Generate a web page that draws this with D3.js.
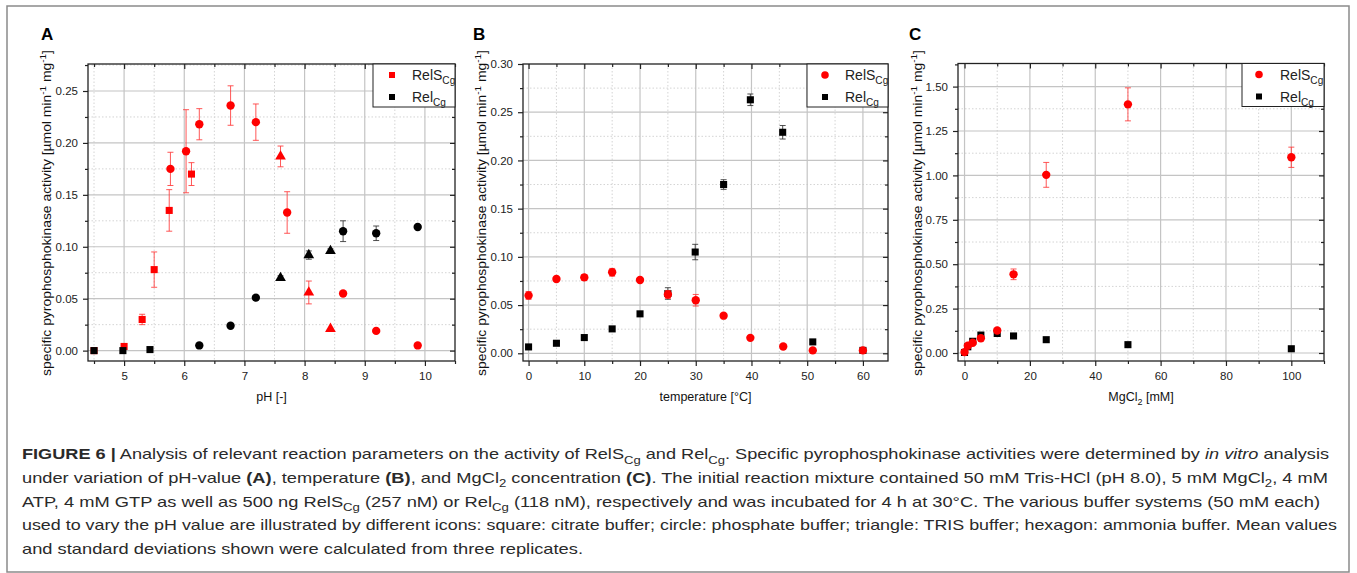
<!DOCTYPE html>
<html><head><meta charset="utf-8">
<script src="https://cdn.jsdelivr.net/npm/d3@7"></script>
<style>
body{margin:0;background:#fff;}
svg{display:block;font-family:"Liberation Sans",Arial,Helvetica,sans-serif;}
</style>
</head><body>
<svg id="chart" width="1357" height="573"></svg>
<script>
// ---------- DATA ----------
// Panel A: pH dependence (buffer decides marker: citrate=square, phosphate=circle, TRIS=triangle)
const phRelS_pH   = [4.5, 5.0, 5.3, 5.5, 5.75, 6.12, 5.77, 6.03, 6.25, 6.77, 7.19, 7.71, 8.64, 9.19, 9.88, 7.6, 8.07, 8.43];
const phRelS_val  = [0.000, 0.004, 0.030, 0.078, 0.135, 0.170, 0.175, 0.192, 0.218, 0.236, 0.220, 0.133, 0.055, 0.019, 0.005, 0.187, 0.056, 0.021];
const phRelS_err  = [0, 0, 0.005, 0.017, 0.020, 0.011, 0.016, 0.040, 0.015, 0.019, 0.0175, 0.020, 0, 0, 0, 0.010, 0.011, 0];
const phRelS_buf  = ["citrate","citrate","citrate","citrate","citrate","citrate","phosphate","phosphate","phosphate","phosphate","phosphate","phosphate","phosphate","phosphate","phosphate","TRIS","TRIS","TRIS"];

const phRel_pH    = [4.5, 4.98, 5.43, 6.25, 6.77, 7.19, 8.64, 9.19, 9.88, 7.6, 8.07, 8.43];
const phRel_val   = [0.000, 0.000, 0.001, 0.005, 0.024, 0.051, 0.115, 0.113, 0.119, 0.070, 0.092, 0.096];
const phRel_err   = [0, 0, 0, 0, 0, 0.002, 0.010, 0.007, 0, 0.002, 0.004, 0.002];
const phRel_buf   = ["citrate","citrate","citrate","phosphate","phosphate","phosphate","phosphate","phosphate","phosphate","TRIS","TRIS","TRIS"];

// Panel B: temperature dependence
const tempRelS    = [0, 5, 10, 15, 20, 25, 30, 35, 39.8, 45.7, 51, 60];
const tempRelS_val= [0.060, 0.077, 0.0787, 0.084, 0.076, 0.061, 0.055, 0.039, 0.016, 0.007, 0.003, 0.003];
const tempRelS_err= [0.004, 0.002, 0.003, 0.004, 0.002, 0.004, 0.006, 0.002, 0, 0, 0, 0];
const tempRel     = [0, 5, 10, 15, 20, 25, 29.9, 35, 39.8, 45.6, 51, 60];
const tempRel_val = [0.0066, 0.0104, 0.0163, 0.0253, 0.0409, 0.062, 0.105, 0.175, 0.2629, 0.2292, 0.0118, 0.003];
const tempRel_err = [0, 0, 0, 0, 0, 0.006, 0.008, 0.005, 0.006, 0.007, 0, 0];

// Panel C: MgCl2 dependence
const mgConc      = [0, 1, 2.5, 5, 10, 15, 25, 50, 100];
const mgRelS_val  = [0.005, 0.041, 0.058, 0.083, 0.127, 0.443, 1.003, 1.40, 1.102];
const mgRelS_err  = [0, 0, 0, 0, 0.01, 0.03, 0.07, 0.093, 0.057];
const mgRel_val   = [0.003, 0.035, 0.066, 0.101, 0.110, 0.096, 0.075, 0.047, 0.024];
const mgRel_err   = [0, 0, 0, 0, 0, 0, 0, 0, 0];

// Tick values
const phTicks     = [5, 6, 7, 8, 9, 10];
const phMinor     = [4.5, 5.5, 6.5, 7.5, 8.5, 9.5, 10.5];
const actTicksA   = [0, 0.05, 0.10, 0.15, 0.20, 0.25];
const actMinorA   = [0.025, 0.075, 0.125, 0.175, 0.225, 0.275];
const tempTicks   = [0, 10, 20, 30, 40, 50, 60];
const tempMinor   = [5, 15, 25, 35, 45, 55];
const actTicksB   = [0, 0.05, 0.10, 0.15, 0.20, 0.25, 0.30];
const actMinorB   = [0.025, 0.075, 0.125, 0.175, 0.225, 0.275];
const mgTicks     = [0, 20, 40, 60, 80, 100];
const mgMinor     = [10, 30, 50, 70, 90, 110];
const actTicksC   = [0, 0.25, 0.50, 0.75, 1.00, 1.25, 1.50];
const actMinorC   = [0.125, 0.375, 0.625, 0.875, 1.125, 1.375, 1.625];

const RED = "#ff0000", BLACK = "#000000";

// ---------- HELPERS ----------
const svg = d3.select("#chart");
svg.append("rect").attr("x",0).attr("y",0).attr("width",1357).attr("height",573).attr("fill","#fff");
svg.append("rect").attr("x",7).attr("y",6).attr("width",1342).attr("height",566)
  .attr("fill","none").attr("stroke","#8a8a8a").attr("stroke-width",1.5);

function rich(textSel, segs, base){
  let shift = 0;
  segs.forEach(s=>{
    const ts = textSel.append("tspan").text(s.t);
    let target = 0;
    if (s.sub){ target = base*0.3; ts.attr("font-size", base*0.72); }
    if (s.sup){ target = -base*0.38; ts.attr("font-size", base*0.72); }
    if (s.b) ts.attr("font-weight","bold");
    if (s.i) ts.attr("font-style","italic");
    const dy = target - shift;
    if (dy !== 0) ts.attr("dy", dy);
    shift = target;
  });
}

const symMap = {citrate: d3.symbolSquare, phosphate: d3.symbolCircle, TRIS: d3.symbolTriangle, square: d3.symbolSquare, circle: d3.symbolCircle};
const symSize = {citrate: 50, phosphate: 55, TRIS: 50, square: 50, circle: 55};

function panel(cfg){
  const {l,r,t,b} = cfg.box;
  const x = d3.scaleLinear().domain(cfg.xDomain).range([l, r]);
  const y = d3.scaleLinear().domain(cfg.yDomain).range([b, t]);
  const g = svg.append("g");

  // grid
  const grid = g.append("g");
  cfg.xMinor.filter(v=>x(v)>l+1 && x(v)<r-1).forEach(v=>grid.append("line")
    .attr("x1",x(v)).attr("x2",x(v)).attr("y1",t).attr("y2",b)
    .attr("stroke","#d4d4d4").attr("stroke-width",1).attr("stroke-dasharray","1.5,2"));
  cfg.yMinor.filter(v=>y(v)>t+1 && y(v)<b-1).forEach(v=>grid.append("line")
    .attr("x1",l).attr("x2",r).attr("y1",y(v)).attr("y2",y(v))
    .attr("stroke","#d4d4d4").attr("stroke-width",1).attr("stroke-dasharray","1.5,2"));
  cfg.xMajor.forEach(v=>grid.append("line")
    .attr("x1",x(v)).attr("x2",x(v)).attr("y1",t).attr("y2",b)
    .attr("stroke","#c4c4c4").attr("stroke-width",1.2));
  cfg.yMajor.filter(v=>y(v)>t+1).forEach(v=>grid.append("line")
    .attr("x1",l).attr("x2",r).attr("y1",y(v)).attr("y2",y(v))
    .attr("stroke","#c4c4c4").attr("stroke-width",1.2));

  // axes
  function styleAxis(sel){
    sel.select(".domain").remove();
    sel.selectAll("line").attr("stroke","#222").attr("stroke-width",1.2);
    sel.selectAll("text").attr("fill","#222").attr("font-size","11.5px")
      .attr("font-family",'"Liberation Sans",Arial,sans-serif');
  }
  g.append("g").attr("transform",`translate(0,${b})`)
    .call(d3.axisBottom(x).tickValues(cfg.xMajor).tickSize(5).tickPadding(6).tickFormat(cfg.xFmt)).call(styleAxis);
  g.append("g").attr("transform",`translate(0,${b})`)
    .call(d3.axisBottom(x).tickValues(cfg.xMinor).tickSize(3).tickFormat("")).call(styleAxis);
  g.append("g").attr("transform",`translate(${l},0)`)
    .call(d3.axisLeft(y).tickValues(cfg.yMajor).tickSize(5).tickPadding(5).tickFormat(cfg.yFmt)).call(styleAxis);
  g.append("g").attr("transform",`translate(${l},0)`)
    .call(d3.axisLeft(y).tickValues(cfg.yMinor.filter(v=>y(v)>=t)).tickSize(3).tickFormat("")).call(styleAxis);
  g.append("g").attr("transform",`translate(0,${t})`)
    .call(d3.axisTop(x).tickValues(cfg.xMajor).tickSize(-5).tickFormat("")).call(styleAxis);
  g.append("g").attr("transform",`translate(0,${t})`)
    .call(d3.axisTop(x).tickValues(cfg.xMinor).tickSize(-3).tickFormat("")).call(styleAxis);
  g.append("g").attr("transform",`translate(${r},0)`)
    .call(d3.axisRight(y).tickValues(cfg.yMajor).tickSize(-5).tickFormat("")).call(styleAxis);
  g.append("g").attr("transform",`translate(${r},0)`)
    .call(d3.axisRight(y).tickValues(cfg.yMinor.filter(v=>y(v)>=t)).tickSize(-3).tickFormat("")).call(styleAxis);

  g.append("rect").attr("x",l).attr("y",t).attr("width",r-l).attr("height",b-t)
    .attr("fill","none").attr("stroke","#222").attr("stroke-width",1.3);

  // series
  cfg.series.forEach(s=>{
    const sg = g.append("g");
    const pts = s.xs.map((xv,i)=>({x:xv, y:s.ys[i], e:s.es[i], shape:s.shapes[i]}));
    const ecol = s.color===RED ? "#ff3b3b" : "#333";
    pts.filter(p=>p.e>0).forEach(p=>{
      const cx = x(p.x), y1 = y(p.y+p.e), y2 = y(p.y-p.e);
      sg.append("line").attr("x1",cx).attr("x2",cx).attr("y1",y1).attr("y2",y2)
        .attr("stroke",ecol).attr("stroke-width",1).attr("opacity",0.85);
      [y1,y2].forEach(yy=>sg.append("line").attr("x1",cx-3).attr("x2",cx+3).attr("y1",yy).attr("y2",yy)
        .attr("stroke",ecol).attr("stroke-width",1).attr("opacity",0.85));
    });
    sg.selectAll("path.m").data(pts).join("path").attr("class","m")
      .attr("transform",d=>`translate(${x(d.x)},${y(d.y)})`)
      .attr("d",d=>d3.symbol().type(symMap[d.shape]).size(symSize[d.shape])())
      .attr("fill",s.color);
  });

  // legend
  const L = cfg.legend;
  g.append("rect").attr("x",L.x).attr("y",L.y).attr("width",L.w).attr("height",L.h)
    .attr("fill","#fff").attr("stroke","#222").attr("stroke-width",1);
  L.items.forEach((it,i)=>{
    const yy = L.y + 11 + i*22;
    g.append("path").attr("transform",`translate(${L.x+L.mx},${yy})`)
      .attr("d",d3.symbol().type(symMap[it.shape]).size(it.shape==="circle"?45:36)())
      .attr("fill",it.color);
    const tx = g.append("text").attr("x",L.x+L.tx).attr("y",yy+5).attr("font-size",14).attr("fill","#222");
    rich(tx,[{t:it.name},{t:"Cg",sub:true}],14);
  });

  // letter
  svg.append("text").attr("x",cfg.letterX).attr("y",40).attr("font-size",17).attr("font-weight","bold")
    .attr("fill","#000").text(cfg.letter);

  // x label
  const xl = svg.append("text").attr("x",(l+r)/2).attr("y",401).attr("text-anchor","middle")
    .attr("font-size",12.5).attr("fill","#111");
  rich(xl, cfg.xLabel, 12.5);

  // y label
  const yl = svg.append("text").attr("transform",`translate(${cfg.ylabX},213) rotate(-90)`)
    .attr("text-anchor","middle").attr("font-size",12.5).attr("fill","#111")
    .attr("textLength",326).attr("lengthAdjust","spacingAndGlyphs");
  rich(yl,[{t:"specific pyrophosphokinase activity [µmol min"},{t:"-1",sup:true},{t:" mg"},{t:"-1",sup:true},{t:"]"}],12.5);
}

const f2 = d3.format(".2f");

panel({
  box:{l:88,r:455,t:64,b:361},
  xDomain:[4.4,10.5], yDomain:[-0.01,0.276],
  xMajor:phTicks, xMinor:phMinor, yMajor:actTicksA, yMinor:actMinorA,
  xFmt:d3.format("d"), yFmt:f2,
  series:[
    {xs:phRelS_pH, ys:phRelS_val, es:phRelS_err, shapes:phRelS_buf, color:RED},
    {xs:phRel_pH, ys:phRel_val, es:phRel_err, shapes:phRel_buf, color:BLACK}
  ],
  legend:{x:373,y:64,w:82,h:43,mx:19,tx:39,items:[{name:"RelS",shape:"square",color:RED},{name:"Rel",shape:"square",color:BLACK}]},
  letter:"A", letterX:41, xLabel:[{t:"pH [-]"}], ylabX:51
});

panel({
  box:{l:523,r:888,t:64,b:361},
  xDomain:[-1,64.5], yDomain:[-0.008,0.30],
  xMajor:tempTicks, xMinor:tempMinor, yMajor:actTicksB, yMinor:actMinorB,
  xFmt:d3.format("d"), yFmt:f2,
  series:[
    {xs:tempRel, ys:tempRel_val, es:tempRel_err, shapes:tempRel.map(()=>"square"), color:BLACK},
    {xs:tempRelS, ys:tempRelS_val, es:tempRelS_err, shapes:tempRelS.map(()=>"circle"), color:RED}
  ],
  legend:{x:807,y:64,w:81,h:43,mx:18,tx:38,items:[{name:"RelS",shape:"circle",color:RED},{name:"Rel",shape:"square",color:BLACK}]},
  letter:"B", letterX:473, xLabel:[{t:"temperature [°C]"}], ylabX:486
});

panel({
  box:{l:958,r:1324,t:63.5,b:361},
  xDomain:[-2,110], yDomain:[-0.045,1.63],
  xMajor:mgTicks, xMinor:mgMinor, yMajor:actTicksC, yMinor:actMinorC,
  xFmt:d3.format("d"), yFmt:f2,
  series:[
    {xs:mgConc, ys:mgRel_val, es:mgRel_err, shapes:mgConc.map(()=>"square"), color:BLACK},
    {xs:mgConc, ys:mgRelS_val, es:mgRelS_err, shapes:mgConc.map(()=>"circle"), color:RED}
  ],
  legend:{x:1242,y:63.5,w:82,h:43,mx:17,tx:38,items:[{name:"RelS",shape:"circle",color:RED},{name:"Rel",shape:"square",color:BLACK}]},
  letter:"C", letterX:909, xLabel:[{t:"MgCl"},{t:"2",sub:true},{t:" [mM]"}], ylabX:922
});

// ---------- CAPTION ----------
const captionLines = [
  {len:1307, segs:[{t:"FIGURE 6 |",b:true},{t:" Analysis of relevant reaction parameters on the activity of RelS"},{t:"Cg",sub:true},{t:" and Rel"},{t:"Cg",sub:true},{t:". Specific pyrophosphokinase activities were determined by "},{t:"in vitro",i:true},{t:" analysis"}]},
  {len:1306, segs:[{t:"under variation of pH-value "},{t:"(A)",b:true},{t:", temperature "},{t:"(B)",b:true},{t:", and MgCl"},{t:"2",sub:true},{t:" concentration "},{t:"(C)",b:true},{t:". The initial reaction mixture contained 50 mM Tris-HCl (pH 8.0), 5 mM MgCl"},{t:"2",sub:true},{t:", 4 mM"}]},
  {len:1298, segs:[{t:"ATP, 4 mM GTP as well as 500 ng RelS"},{t:"Cg",sub:true},{t:" (257 nM) or Rel"},{t:"Cg",sub:true},{t:" (118 nM), respectively and was incubated for 4 h at 30°C. The various buffer systems (50 mM each)"}]},
  {len:1315, segs:[{t:"used to vary the pH value are illustrated by different icons: square: citrate buffer; circle: phosphate buffer; triangle: TRIS buffer; hexagon: ammonia buffer. Mean values"}]},
  {len:561, segs:[{t:"and standard deviations shown were calculated from three replicates."}]}
];
captionLines.forEach((ln,i)=>{
  const tx = svg.append("text").attr("x",22).attr("y",459 + i*23.8).attr("font-size",15).attr("fill","#2a2a2a")
    .attr("textLength",ln.len).attr("lengthAdjust","spacingAndGlyphs");
  rich(tx, ln.segs, 15);
});
</script>
</body></html>
